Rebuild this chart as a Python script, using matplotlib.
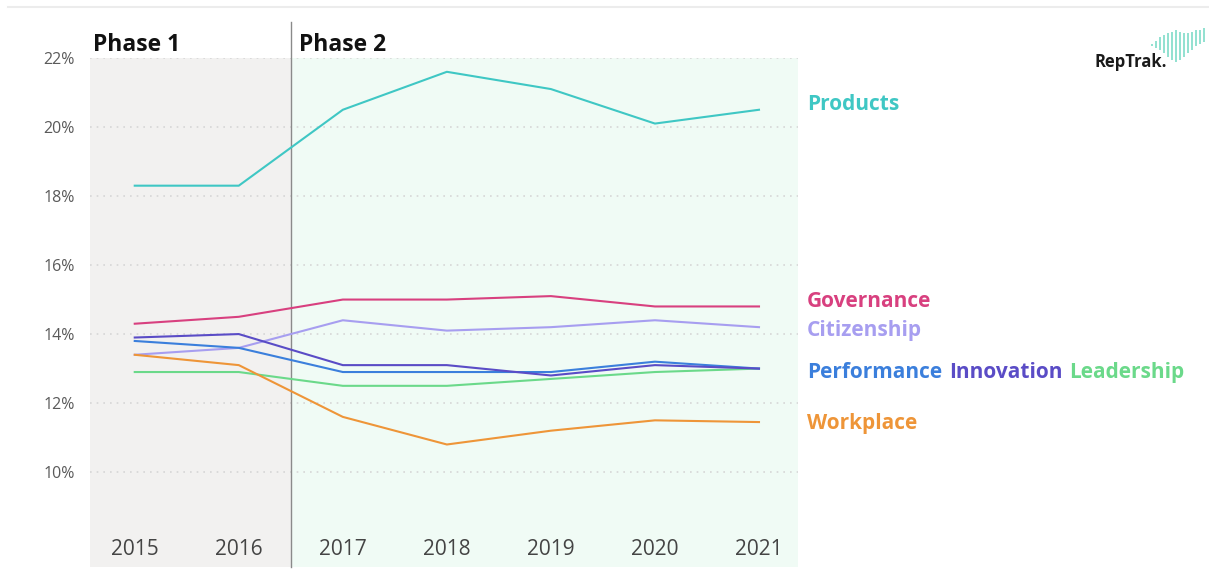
import matplotlib.pyplot as plt
from matplotlib.lines import Line2D

years = [2015, 2016, 2017, 2018, 2019, 2020, 2021]

products = [18.3, 18.3, 20.5, 21.6, 21.1, 20.1, 20.5]
governance = [14.3, 14.5, 15.0, 15.0, 15.1, 14.8, 14.8]
citizenship = [13.4, 13.6, 14.4, 14.1, 14.2, 14.4, 14.2]
innovation = [13.9, 14.0, 13.1, 13.1, 12.8, 13.1, 13.0]
performance = [13.8, 13.6, 12.9, 12.9, 12.9, 13.2, 13.0]
leadership = [12.9, 12.9, 12.5, 12.5, 12.7, 12.9, 13.0]
workplace = [13.4, 13.1, 11.6, 10.8, 11.2, 11.5, 11.45]

yticks = [10, 12, 14, 16, 18, 20, 22]

c_products = '#3fc7c4'
c_governance = '#d8407f'
c_citizenship = '#a79ef0'
c_performance = '#3b7fdc'
c_innovation = '#5a4cc6'
c_leadership = '#6bd98a'
c_workplace = '#ee9538'

font = 'Open Sans'

fig = plt.figure(figsize=(12.09, 5.70), dpi=100)
ax = fig.add_axes([90 / 1209, 3 / 570, 708 / 1209, 509 / 570])
ax.set_xlim(2014.57, 2021.375)
ax.set_ylim(7.25, 22)

# phase backgrounds
ax.axvspan(2014.57, 2016.5, color='#f2f1f0', zorder=0, lw=0)
ax.axvspan(2016.5, 2021.375, color='#f0fbf5', zorder=0, lw=0)
ax.axvline(2016.5, ymin=0, ymax=1.071, color='#8a8a8a', lw=1, clip_on=False, zorder=3)

for t in yticks:
    ax.axhline(t, color='#d6d6d6', lw=1.2, ls=(0, (1, 3)), zorder=1)

series = [
    (products, c_products),
    (governance, c_governance),
    (citizenship, c_citizenship),
    (leadership, c_leadership),
    (workplace, c_workplace),
    (performance, c_performance),
    (innovation, c_innovation),
]
for vals, col in series:
    ax.plot(years, vals, color=col, lw=1.5, zorder=4)

for s in ax.spines.values():
    s.set_visible(False)
ax.tick_params(length=0)
ax.set_yticks(yticks)
ax.set_yticklabels([f'{t}%' for t in yticks], fontsize=11.5, color='#5a5a5a', family=font)
ax.tick_params(axis='y', pad=11)
ax.set_xticks(years)
ax.set_xticklabels([str(y) for y in years], fontsize=15, color='#444444', family=font)
ax.tick_params(axis='x', pad=-20)

# phase titles
ax.text(2014.6, 1.014, 'Phase 1', transform=ax.get_xaxis_transform(), fontsize=16.5,
        fontweight='bold', color='#111111', family=font, va='baseline')
ax.text(2016.58, 1.014, 'Phase 2', transform=ax.get_xaxis_transform(), fontsize=16.5,
        fontweight='bold', color='#111111', family=font, va='baseline')

# series labels on the right
lx = 2021.46
lab_kw = dict(fontsize=15, fontweight='bold', family=font, va='center', clip_on=False)
ax.text(lx, 20.64, 'Products', color=c_products, **lab_kw)
ax.text(lx, 14.95, 'Governance', color=c_governance, **lab_kw)
ax.text(lx, 14.1, 'Citizenship', color=c_citizenship, **lab_kw)
ax.text(lx, 11.4, 'Workplace', color=c_workplace, **lab_kw)

# the three overlapping series share one row of labels
renderer = fig.canvas.get_renderer()
x_px = ax.transData.transform((lx, 12.9))[0]
for name, col in [('Performance', c_performance), ('Innovation', c_innovation),
                  ('Leadership', c_leadership)]:
    xd = ax.transData.inverted().transform((x_px, 0))[0]
    t = ax.text(xd, 12.9, name, color=col, **lab_kw)
    x_px = t.get_window_extent(renderer).x1 + 7

# top frame line
fig.add_artist(Line2D([8 / 1209, 1], [1 - 7 / 570, 1 - 7 / 570], color='#ececec', lw=1.5))

# logo
fig.text(1095 / 1209, 1 - 62 / 570, 'RepTrak.', fontsize=12, fontweight='bold',
         color='#1a1a1a', family=font, va='center')
logo = fig.add_axes([1150 / 1209, 1 - 64 / 570, 56 / 1209, 36 / 570])
logo.set_xlim(0, 14)
logo.set_ylim(0, 1)
logo.axis('off')
bar_top = [0.55, 0.65, 0.75, 0.8, 0.85, 0.9, 0.95, 0.9, 0.85, 0.85, 0.9, 0.95, 0.95, 1.0]
bar_bot = [0.5, 0.45, 0.4, 0.3, 0.2, 0.1, 0.05, 0.1, 0.2, 0.3, 0.4, 0.5, 0.55, 0.6]
for i, (b, t) in enumerate(zip(bar_bot, bar_top)):
    logo.vlines(i + 0.5, b, t, color='#7fdcc8', lw=1.2)

fig.savefig('out.png', dpi=100, facecolor='white')
